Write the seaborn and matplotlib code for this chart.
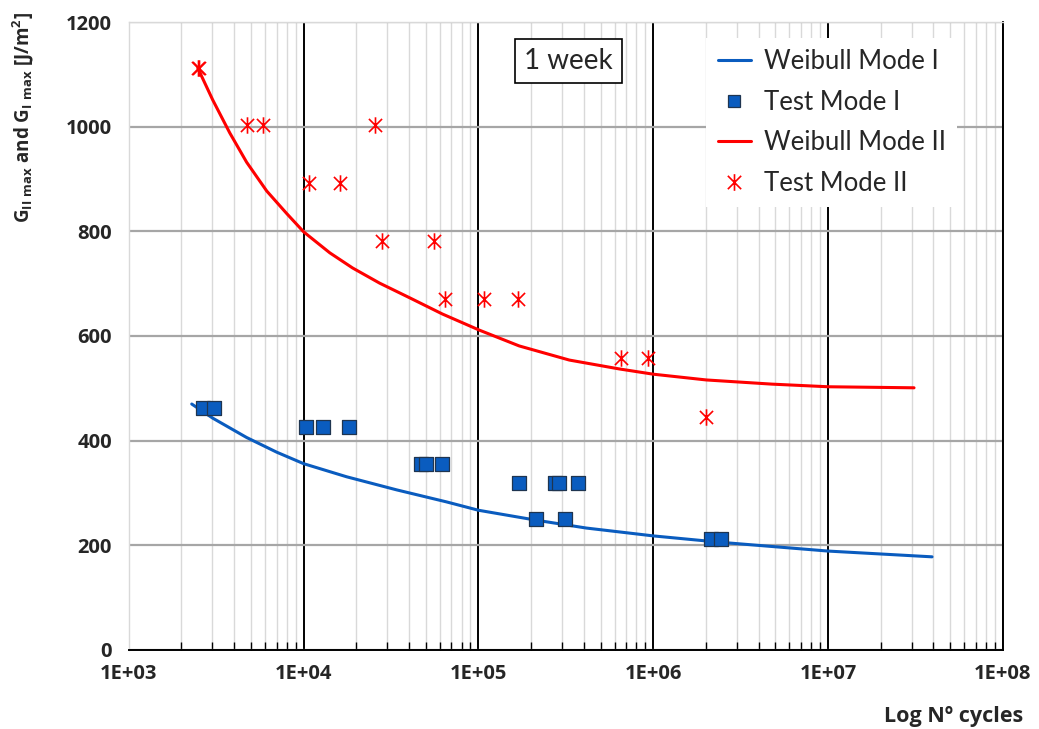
import numpy as np
import pandas as pd
import matplotlib
matplotlib.use("Agg")
import matplotlib.pyplot as plt
import seaborn as sns
from matplotlib.path import Path
from matplotlib.lines import Line2D
from matplotlib.ticker import LogLocator, NullFormatter, FixedLocator

# ---- data ----
weib1_n = [2290, 3020, 4720, 7010, 10000, 17600, 34000, 65600, 100000, 214000, 414000,
           1000000, 2380000, 10000000, 39300000]
weib1_g = [470, 443, 406, 378, 356, 331, 306, 283, 267, 248, 233, 218, 206, 189, 178]

weib2_n = [2480, 3020, 3780, 4720, 6150, 8000, 10000, 14100, 19050, 27200, 40400, 62200,
           101500, 171000, 331000, 640000, 1000000, 2010000, 4780000, 10000000, 31000000]
weib2_g = [1112, 1051, 988, 932, 877, 834, 799, 759, 730, 701, 673, 642, 611, 581, 554,
           537, 527, 516, 508, 503, 501]

test1_n = [2650, 3060, 10250, 12850, 18070, 47200, 50400, 62200, 171000, 275000, 287000,
           373000, 214000, 314000, 2140000, 2450000]
test1_g = [462, 462, 426, 426, 426, 356, 356, 356, 320, 320, 320, 320, 250, 250, 213, 213]

test2_n = [2500, 2530, 4720, 5830, 25500, 10700, 16070, 27900, 55300, 64700, 108000, 169000,
           656000, 936000, 2010000]
test2_g = [1113, 1113, 1003, 1003, 1003, 892, 892, 781, 781, 670, 670, 670, 558, 558, 446]

yticks = [0, 200, 400, 600, 800, 1000, 1200]
xtick_labels = ["1E+03", "1E+04", "1E+05", "1E+06", "1E+07", "1E+08"]

# ---- styling ----
sns.set_theme(style="white")
plt.rcParams["font.family"] = ["Lato", "DejaVu Sans"]
plt.rcParams["mathtext.fontset"] = "custom"
plt.rcParams["mathtext.rm"] = "Open Sans:bold"
plt.rcParams["mathtext.bf"] = "Open Sans:bold"
plt.rcParams["mathtext.it"] = "Open Sans:bold"
BOLD = ["Open Sans", "DejaVu Sans"]

blue = "#0a5cbf"
red = "#ff0000"

fig = plt.figure(figsize=(10.39, 7.29), dpi=100)
ax = fig.add_axes([0.124, 0.1084, 0.8413, 0.8614])

ax.set_xscale("log")
ax.set_xlim(1e3, 1e8)
ax.set_ylim(0, 1200)

# grid
ax.set_yticks(yticks)
ax.xaxis.set_major_locator(FixedLocator([10.0**k for k in range(3, 9)]))
ax.xaxis.set_minor_locator(LogLocator(base=10, subs=np.arange(2, 10)))
ax.xaxis.set_minor_formatter(NullFormatter())
ax.grid(True, axis="x", which="minor", color="#d9d9d9", linewidth=1.0, zorder=0)
ax.grid(True, axis="x", which="major", color="black", linewidth=1.4, zorder=1)
ax.grid(True, axis="y", which="major", color="#a6a6a6", linewidth=1.6, zorder=1)
ax.set_axisbelow(True)

df_w1 = pd.DataFrame({"N": weib1_n, "G": weib1_g})
df_w2 = pd.DataFrame({"N": weib2_n, "G": weib2_g})
df_t1 = pd.DataFrame({"N": test1_n, "G": test1_g})
df_t2 = pd.DataFrame({"N": test2_n, "G": test2_g})

sns.lineplot(data=df_w1, x="N", y="G", ax=ax, color=blue, linewidth=2.2, sort=True, zorder=3)
sns.lineplot(data=df_w2, x="N", y="G", ax=ax, color=red, linewidth=2.2, sort=True, zorder=3)

star = Path([(-1, -1), (1, 1), (-1, 1), (1, -1), (0, -1.25), (0, 1.25)],
            [Path.MOVETO, Path.LINETO, Path.MOVETO, Path.LINETO, Path.MOVETO, Path.LINETO])

sns.scatterplot(data=df_t1, x="N", y="G", ax=ax, marker="s", s=90, color=blue,
                edgecolor="#1f3550", linewidth=0.9, zorder=4)
sns.scatterplot(data=df_t2, x="N", y="G", ax=ax, marker=star, s=140, color=red,
                edgecolor=red, linewidth=1.2, zorder=4)

# axes spines
for side in ["left", "top"]:
    ax.spines[side].set_color("#d9d9d9")
    ax.spines[side].set_linewidth(1.0)
ax.spines["right"].set_color("black")
ax.spines["right"].set_linewidth(1.4)
ax.spines["bottom"].set_color("black")
ax.spines["bottom"].set_linewidth(1.4)

ax.tick_params(axis="x", which="major", direction="in", length=0, pad=10)
ax.tick_params(axis="x", which="minor", direction="in", length=6, width=1.0, color="black", bottom=True)
ax.tick_params(axis="y", which="major", length=0, pad=12)
ax.set_xticklabels(xtick_labels)
for lab in ax.get_xticklabels() + ax.get_yticklabels():
    lab.set_family(BOLD)
    lab.set_fontweight("bold")
    lab.set_fontsize(14.5)

ax.set_xlabel("Log Nº cycles", fontsize=15.5, fontweight="bold", family=BOLD,
              loc="right")
ax.xaxis.set_label_coords(1.023, -0.09)
ax.set_ylabel(r"$\mathbf{G_{II\ max}}$ and $\mathbf{G_{I\ max}}$ [J/m$^\mathbf{2}$]",
              fontsize=13.5, fontweight="bold", family=BOLD)
ax.yaxis.set_label_coords(-0.106, 1.015)
ax.yaxis.label.set_va("bottom")
ax.yaxis.label.set_ha("right")

ax.text(0.503, 0.938, "1 week", transform=ax.transAxes, ha="center", va="center",
        fontsize=20, zorder=6,
        bbox=dict(boxstyle="square,pad=0.33", facecolor="white", edgecolor="black", linewidth=1.2))

handles = [
    Line2D([], [], color=blue, linewidth=2.2),
    Line2D([], [], color=blue, marker="s", linestyle="none", markersize=9,
           markeredgecolor="#1f3550", markeredgewidth=0.9),
    Line2D([], [], color=red, linewidth=2.2),
    Line2D([], [], color=red, marker=star, linestyle="none", markersize=12, markeredgewidth=1.2),
]
labels = ["Weibull Mode I", "Test Mode I", "Weibull Mode II", "Test Mode II"]
leg = ax.legend(handles, labels, loc="upper right", fontsize=18.5, frameon=True,
                fancybox=False, edgecolor="none", facecolor="white", framealpha=1,
                handlelength=1.3, handletextpad=0.5, labelspacing=0.6,
                borderpad=0.45, borderaxespad=0.0, bbox_to_anchor=(0.948, 0.975))
leg.set_zorder(7)

fig.savefig("out.png", dpi=100)
